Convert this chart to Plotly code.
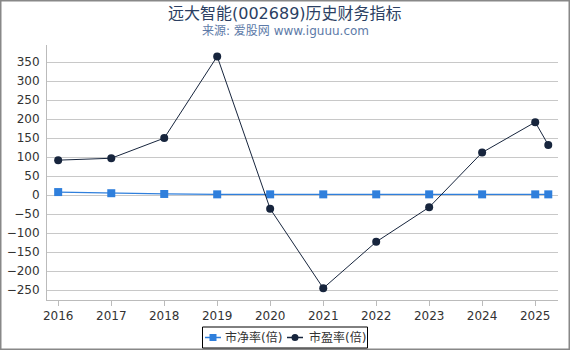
import plotly.graph_objects as go

dates = ["2016-01-01", "2017-01-01", "2018-01-01", "2019-01-01", "2020-01-01",
         "2021-01-01", "2022-01-01", "2023-01-01", "2024-01-01", "2025-01-01", "2025-04-01"]
pb = [8, 5, 3, 2, 2, 2, 2, 2, 2, 2, 2]
pe = [92, 97, 150, 365, -36, -245, -123, -32, 112, 192, 132]
yticks = [-250, -200, -150, -100, -50, 0, 50, 100, 150, 200, 250, 300, 350]
names = ["市净率(倍)", "市盈率(倍)"]
colors = ["#2f7fdc", "#17253d"]

FONT = "DejaVu Sans, Noto Sans CJK SC, sans-serif"
W, H = 570, 350
L, R, T, B = 47, 12, 45, 50
pw, ph = W - L - R, H - T - B


def px(x):
    return (x - L) / pw


def py(y):
    return (H - B - y) / ph


fig = go.Figure()
fig.add_trace(go.Scatter(x=dates, y=pb, name=names[0], mode="lines+markers",
                         line=dict(color=colors[0], width=1.3),
                         marker=dict(symbol="square", size=8, color=colors[0])))
fig.add_trace(go.Scatter(x=dates, y=pe, name=names[1], mode="lines+markers",
                         line=dict(color=colors[1], width=1),
                         marker=dict(symbol="circle", size=8, color=colors[1])))

shapes = [
    # outer frame
    dict(type="rect", xref="paper", yref="paper", x0=px(0.75), x1=px(W - 0.75),
         y0=py(H - 0.75), y1=py(0.75), line=dict(color="#888", width=1.5),
         fillcolor="rgba(0,0,0,0)", layer="below"),
    # legend box
    dict(type="rect", xref="paper", yref="paper", x0=px(202.5), x1=px(367.5),
         y0=py(348), y1=py(327), line=dict(color="#000", width=1), fillcolor="white"),
]
annotations = [
    dict(text="远大智能(002689)历史财务指标", xref="paper", yref="paper",
         x=px(285), y=py(13), xanchor="center", yanchor="middle",
         showarrow=False, font=dict(size=16, color="#2b3f63", family=FONT)),
    dict(text="来源: 爱股网 www.iguuu.com", xref="paper", yref="paper",
         x=px(285), y=py(31), xanchor="center", yanchor="middle",
         showarrow=False, font=dict(size=12, color="#5d7aa8", family=FONT)),
]
# legend entries
ly = 337.5
for i, (sx, tx) in enumerate([(205, 223), (287, 307)]):
    shapes.append(dict(type="line", xref="paper", yref="paper", x0=px(sx), x1=px(sx + 16),
                       y0=py(ly), y1=py(ly), line=dict(color=colors[i], width=1.5)))
    cx = sx + 8
    shapes.append(dict(type="rect" if i == 0 else "circle", xref="paper", yref="paper",
                       x0=px(cx - 3.5), x1=px(cx + 3.5), y0=py(ly + 3.5), y1=py(ly - 3.5),
                       line=dict(color=colors[i], width=0), fillcolor=colors[i]))
    annotations.append(dict(text=names[i], xref="paper", yref="paper", x=px(tx), y=py(ly),
                            xanchor="left", yanchor="middle", showarrow=False,
                            font=dict(size=12, color="#333", family=FONT)))

fig.update_layout(
    width=W, height=H, margin=dict(l=L, r=R, t=T, b=B, autoexpand=False),
    paper_bgcolor="white", plot_bgcolor="white",
    font=dict(family=FONT, size=12, color="#333"),
    showlegend=False,
    xaxis=dict(type="date", range=["2015-10-16", "2025-06-07"], dtick="M12", tickformat="%Y",
               tick0="2016-01-01", showgrid=False, showline=True, linecolor="#bbb",
               ticks="outside", ticklen=5, tickcolor="#bbb", zeroline=False,
               tickfont=dict(size=12, color="#333")),
    yaxis=dict(range=[-276, 395], tickvals=yticks, showgrid=True, gridcolor="#c8c8c8",
               gridwidth=1, showline=True, linecolor="#bbb", zeroline=False,
               ticks="outside", ticklen=4, tickcolor="white",
               tickfont=dict(size=12, color="#333")),
    shapes=shapes,
    annotations=annotations,
)
fig.write_html("out.html")
